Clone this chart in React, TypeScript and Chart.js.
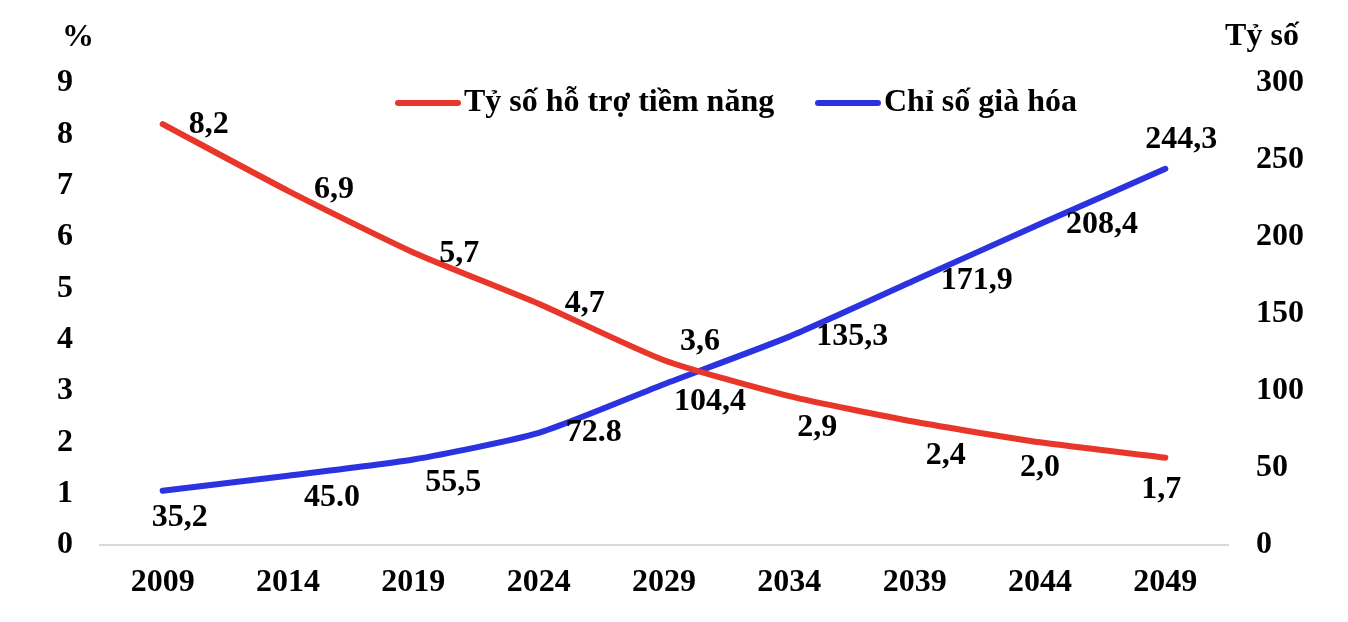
import React, { useEffect, useRef } from 'react';
import Chart from 'chart.js/auto';

const years = ['2009', '2014', '2019', '2024', '2029', '2034', '2039', '2044', '2049'];
const supportRatio = [8.2, 6.9, 5.7, 4.7, 3.6, 2.9, 2.4, 2.0, 1.7];
const agingIndex = [35.2, 45.0, 55.5, 72.8, 104.4, 135.3, 171.9, 208.4, 244.3];
const supportLabels = ['8,2', '6,9', '5,7', '4,7', '3,6', '2,9', '2,4', '2,0', '1,7'];
const agingLabels = ['35,2', '45.0', '55,5', '72.8', '104,4', '135,3', '171,9', '208,4', '244,3'];
const leftTicks = [0, 9, 1];
const rightTicks = [0, 300, 50];

// label nudges (px) from each point, like Excel's hand-placed labels
const supportNudge = [[46, 1], [46, -1], [46, 1], [46, 0], [36, -18], [28, 32], [31, 34], [0, 25], [-4, 32]];
const agingNudge = [[17, 27], [44, 22], [40, 23], [55, 0], [46, 18], [63, 0], [62, 0], [62, 1], [16, -29]];

const FONT = '"Liberation Serif", "Times New Roman", serif';
const RED = '#e8372a';
const BLUE = '#2b33e0';

const overlayPlugin = {
  id: 'overlay',
  afterDatasetsDraw(chart: any) {
    const ctx = chart.ctx;
    ctx.save();
    ctx.fillStyle = '#000';
    ctx.font = `bold 32px ${FONT}`;
    ctx.textAlign = 'center';
    ctx.textBaseline = 'middle';
    const groups = [
      { labels: supportLabels, nudge: supportNudge },
      { labels: agingLabels, nudge: agingNudge }
    ];
    groups.forEach((g, di) => {
      const meta = chart.getDatasetMeta(di);
      meta.data.forEach((pt: any, i: number) => {
        ctx.fillText(g.labels[i], pt.x + g.nudge[i][0], pt.y + g.nudge[i][1]);
      });
    });

    // axis titles
    const area = chart.chartArea;
    ctx.fillText('%', area.left - 22, 38);
    ctx.fillText('Tỷ số', area.right + 34, 37);

    // legend
    ctx.textAlign = 'left';
    const items = [
      { text: chart.data.datasets[0].label, color: RED, x: 398 },
      { text: chart.data.datasets[1].label, color: BLUE, x: 818 }
    ];
    const ly = 103;
    items.forEach((it) => {
      ctx.strokeStyle = it.color;
      ctx.lineWidth = 6;
      ctx.lineCap = 'round';
      ctx.beginPath();
      ctx.moveTo(it.x, ly);
      ctx.lineTo(it.x + 60, ly);
      ctx.stroke();
      ctx.fillText(it.text, it.x + 66, ly);
    });
    ctx.restore();
  }
};

export default function App() {
  const canvasRef = useRef<HTMLCanvasElement>(null);

  useEffect(() => {
    document.body.style.margin = '0';
    if (!canvasRef.current) return;
    const tickFont = { family: FONT, size: 32, weight: 'bold' as const };
    const chart = new Chart(canvasRef.current, {
      type: 'line',
      data: {
        labels: years,
        datasets: [
          {
            label: 'Tỷ số hỗ trợ tiềm năng',
            data: supportRatio,
            borderColor: RED,
            borderWidth: 6,
            borderCapStyle: 'round',
            borderJoinStyle: 'round',
            pointRadius: 0,
            tension: 0.2,
            yAxisID: 'y',
            fill: false
          },
          {
            label: 'Chỉ số già hóa',
            data: agingIndex,
            borderColor: BLUE,
            borderWidth: 6,
            borderCapStyle: 'round',
            borderJoinStyle: 'round',
            pointRadius: 0,
            tension: 0.2,
            yAxisID: 'y1',
            fill: false
          }
        ]
      },
      options: {
        responsive: true,
        maintainAspectRatio: false,
        animation: false,
        layout: { padding: { top: 83, left: 0, right: 0, bottom: 0 } },
        plugins: {
          legend: { display: false },
          tooltip: { enabled: false }
        },
        scales: {
          x: {
            offset: true,
            grid: { display: false, drawTicks: false },
            border: { display: true, color: '#d9d9d9', width: 2 },
            ticks: { color: '#000', font: tickFont, padding: 19, maxRotation: 0 },
            afterFit: (s: any) => { s.height = 77; }
          },
          y: {
            position: 'left',
            min: leftTicks[0],
            max: leftTicks[1],
            grid: { display: false, drawTicks: false },
            border: { display: false },
            ticks: { stepSize: leftTicks[2], color: '#000', font: tickFont, padding: 27 },
            afterFit: (s: any) => { s.width = 100; }
          },
          y1: {
            position: 'right',
            min: rightTicks[0],
            max: rightTicks[1],
            grid: { display: false, drawTicks: false },
            border: { display: false },
            ticks: { stepSize: rightTicks[2], color: '#000', font: tickFont, padding: 28 },
            afterFit: (s: any) => { s.width = 120; }
          }
        }
      },
      plugins: [overlayPlugin]
    });
    return () => chart.destroy();
  }, []);

  return (
    <div style={{ position: 'absolute', left: 0, top: 0, width: 1348, height: 622, background: '#fff' }}>
      <canvas ref={canvasRef}></canvas>
    </div>
  );
}
